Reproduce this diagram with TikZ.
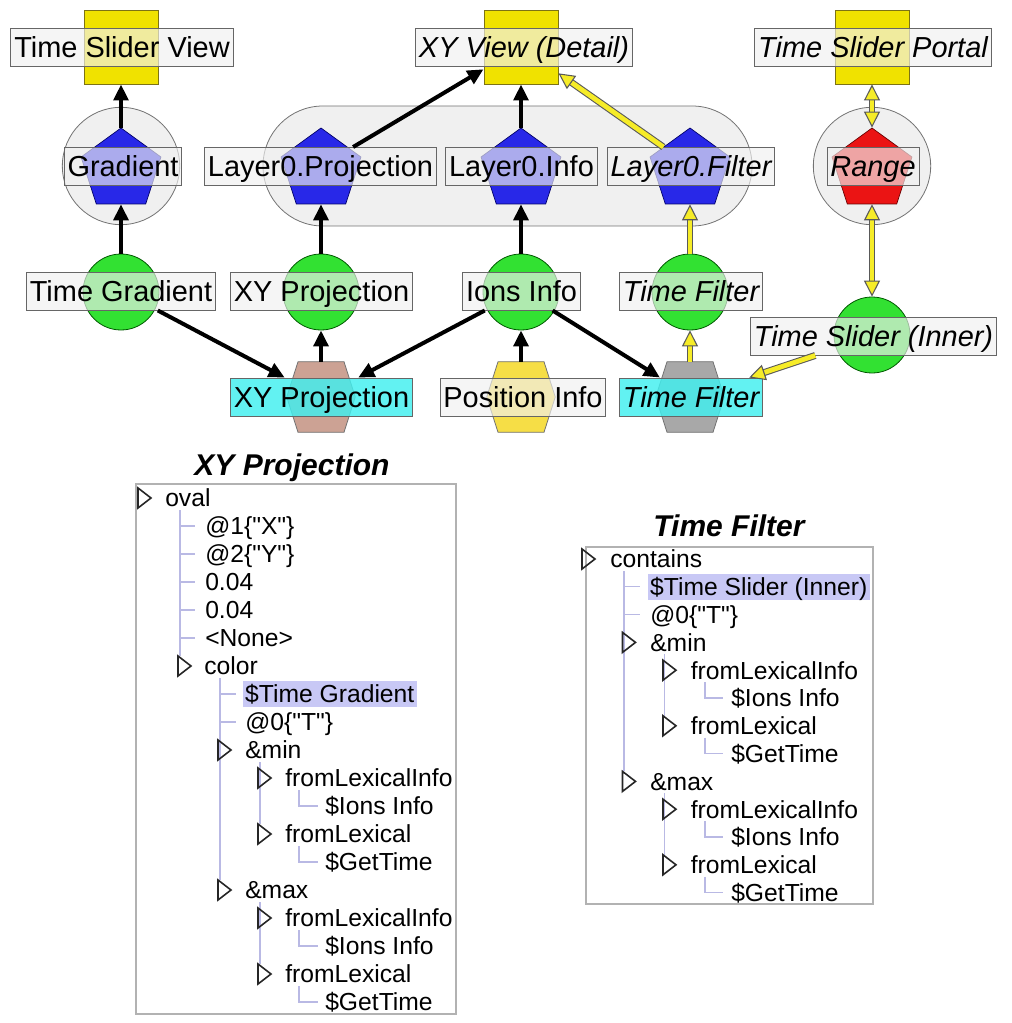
\documentclass[tikz,border=0pt]{standalone}
\usepackage{fontspec}
\setmainfont{Liberation Sans}
\usetikzlibrary{arrows.meta,calc,shapes.geometric}
\definecolor{yelS}{RGB}{240,226,0}
\definecolor{yelB}{RGB}{125,115,20}
\definecolor{bluP}{RGB}{40,40,232}
\definecolor{redP}{RGB}{235,20,20}
\definecolor{grnC}{RGB}{50,225,50}
\definecolor{cyaB}{RGB}{64,240,240}
\definecolor{hexA}{RGB}{204,162,148}
\definecolor{hexB}{RGB}{246,222,70}
\definecolor{hexC}{RGB}{168,168,168}
\definecolor{bgG}{RGB}{240,240,240}
\definecolor{hiL}{RGB}{200,200,245}
\definecolor{trL}{RGB}{185,185,228}
\definecolor{arY}{RGB}{246,236,40}
\newcommand\lblfont{\fontsize{21.7}{24}\selectfont}
\newcommand\treefont{\fontsize{18.5}{21}\selectfont}
\newcommand\ttlfont{\fontsize{22.5}{26}\selectfont\bfseries\itshape}
\newcommand\qq{\textquotedbl}
\newcommand\drawhex[2]{\draw[draw=black!55, fill=#2, line width=0.6pt] ($(#1.north)+(-23,0)$) -- ($(#1.north)+(23,0)$) -- (#1.east) -- ($(#1.south)+(23,0)$) -- ($(#1.south)+(-23,0)$) -- (#1.west) -- cycle;}
\newcommand\tritri[2]{\draw[tritr] ({#1},{#2-10}) -- ({#1+13},{#2}) -- ({#1},{#2+10}) -- cycle;}
\tikzset{
  Ytip/.tip={Triangle[length=12pt,width=12pt,color=black!65,fill=arY,line width=0.8pt]},
  lbl/.style={draw=black!60, line width=0.7pt, fill=black!6, fill opacity=0.66, text opacity=1, inner xsep=2.5pt, inner ysep=0pt, minimum height=28.5pt, font=\lblfont, text height=19pt, text depth=3.5pt},
  cylbl/.style={lbl, fill=cyaB, fill opacity=0.82},
  sq/.style={draw=yelB, line width=0.7pt, fill=yelS, minimum size=55.5pt, inner sep=0pt},
  pent/.style={regular polygon, regular polygon sides=5, minimum size=63pt, inner sep=0pt, fill=bluP, draw=blue!40!black, line width=0.5pt},
  grn/.style={circle, minimum size=57pt, inner sep=0pt, fill=grnC, draw=green!35!black, line width=0.6pt},
  bigc/.style={circle, minimum size=88pt, inner sep=0pt, fill=bgG, draw=black!55, line width=0.6pt},
  pill/.style={draw=black!55, fill=bgG, line width=0.6pt, rounded corners=44.9pt, minimum width=366.75pt, minimum height=90pt, inner sep=0pt},
  hexbox/.style={minimum width=51pt, minimum height=52.5pt, inner sep=0pt},
  blk/.style={draw=black, line width=3pt, -{Triangle[length=12pt,width=11pt]}},
  yelbase/.style={draw=arY, line width=3.6pt},
  yel/.style={yelbase, -{Ytip}, preaction={draw=black!65, line width=5.2pt, -, shorten >=11pt}},
  yel2/.style={yelbase, {Ytip}-{Ytip}, preaction={draw=black!65, line width=5.2pt, -, shorten >=11pt, shorten <=11pt}},
  tt/.style={font=\treefont, inner xsep=0pt, inner ysep=1pt, text height=15.5pt, text depth=2.3pt, anchor=west},
  hl/.style={tt, fill=hiL, inner xsep=2pt},
  tritr/.style={draw=black!85, line width=1.2pt, line join=miter},
  trl/.style={draw=trL, line width=0.8pt},
  tbox/.style={draw=black!30, line width=1pt, fill=white},
  ttl/.style={font=\ttlfont, inner sep=0pt, text height=19pt, text depth=2.9pt}
}
\begin{document}
\begin{tikzpicture}[x=0.75pt,y=-0.75pt]
\fill[white] (0,0) rectangle (1011,1023);
\useasboundingbox (0,0) rectangle (1011,1023);
% containers
\node[bigc] (gradO) at (121,166) {};
\node[bigc] (rangeO) at (872,166) {};
\node[pill] (pillO) at (507.5,166) {};
% yellow squares
\node[sq] (tsv) at (121,47) {};
\node[sq] (xyv) at (521,47) {};
\node[sq] (tsp) at (872,47) {};
% pentagons
\node[pent] (gradP) at (121,170) {};
\node[pent] (l0pP) at (321,170) {};
\node[pent] (l0iP) at (521,170) {};
\node[pent] (l0fP) at (690,170) {};
\node[pent, fill=redP, draw=red!40!black] (rangeP) at (872,170) {};
% green circles
\node[grn] (tgradC) at (121,292) {};
\node[grn] (xygC) at (321,292) {};
\node[grn] (ionsC) at (521,292) {};
\node[grn] (tfgC) at (690,292) {};
\node[grn] (tsiC) at (872,335) {};
% hexagons
\node[hexbox] (xypH) at (321,397) {};
\node[hexbox] (posH) at (521,397) {};
\node[hexbox] (tfH) at (690,397) {};
\drawhex{xypH}{hexA}
\drawhex{posH}{hexB}
\drawhex{tfH}{hexC}
% labels
\node[lbl] (tsvL) at (122,47.5) {Time Slider View};
\node[lbl] (xyvL) at (524,47.5) {\itshape XY View (Detail)};
\node[lbl] (tspL) at (873,47.5) {\itshape Time Slider Portal};
\node[lbl] (gradL) at (123,166.5) {Gradient};
\node[lbl] (l0pL) at (320.5,166.5) {Layer0.Projection};
\node[lbl] (l0iL) at (521.5,166.5) {Layer0.Info};
\node[lbl] (l0fL) at (691,166.5) {\itshape Layer0.Filter};
\node[lbl] (rangeL) at (873,166.5) {\itshape Range};
\node[lbl] (tgradL) at (121,291) {Time Gradient};
\node[lbl] (xygL) at (321.5,291) {XY Projection};
\node[lbl] (ionsL) at (521.5,291) {Ions Info};
\node[lbl] (tfgL) at (691,291) {\itshape Time Filter};
\node[lbl] (tsiL) at (873.5,336) {\itshape Time Slider (Inner)};
\node[cylbl] (xypL) at (321.5,397) {XY Projection};
\node[lbl] (posL) at (523,397) {Position Info};
\node[cylbl] (tfL) at (691,397) {\itshape Time Filter};
% connectors
\draw[blk] (gradP) -- (tsv);
\draw[blk] (tgradC) -- (gradP);
\draw[blk] (xygC) -- (l0pP);
\draw[blk] (l0pL) -- (xyv);
\draw[blk] (l0iP) -- (xyv);
\draw[blk] (ionsC) -- (l0iP);
\draw[yel] (l0fL) -- (xyv);
\draw[yel] (tfgC) -- (l0fP);
\draw[yel2] (rangeP) -- (tsp);
\draw[yel2] (rangeP) -- (tsiC);
\draw[blk] (tgradL) -- (xypL);
\draw[blk] (ionsL) -- (xypL);
\draw[blk] (ionsL) -- (tfL);
\draw[blk] (xypH) -- (xygC);
\draw[blk] (posH) -- (ionsC);
\draw[yel] (tfH) -- (tfgC);
\draw[yel] (tsiL) -- (tfL);
% ---------- left tree ----------
\node[ttl] (ttlA) at (292,465) {XY Projection};
\draw[tbox] (136,484) rectangle (456,1014);
\draw[trl] (180,510) -- (180,656);
\foreach \yy in {526,554,582,610,638} {\draw[trl] (180,\yy) -- (195,\yy);}
\draw[trl] (220,678) -- (220,880);
\foreach \yy in {694,722} {\draw[trl] (220,\yy) -- (236,\yy);}
\draw[trl] (260,762) -- (260,824);
\draw[trl] (260,902) -- (260,964);
\foreach \pa/\ch in {778/806,834/862,918/946,974/1002} {\draw[trl] (299,\pa+12) -- (299,\ch) -- (318,\ch);}
\tritri{138}{498}
\tritri{178}{666}
\tritri{218}{750}
\tritri{218}{890}
\tritri{258}{778}
\tritri{258}{834}
\tritri{258}{918}
\tritri{258}{974}
\node[tt] (a0) at (165,498) {oval};
\node[tt] (a1) at (205,526) {@1\{\qq X\qq\}};
\node[tt] (a2) at (205,554) {@2\{\qq Y\qq\}};
\node[tt] (a3) at (205,582) {0.04};
\node[tt] (a4) at (205,610) {0.04};
\node[tt] (a5) at (205,638) {<None>};
\node[tt] (a6) at (204,666) {color};
\node[hl] (a7) at (242.3,694) {\$Time Gradient};
\node[tt] (a8) at (245,722) {@0\{\qq T\qq\}};
\node[tt] (a9) at (245,750) {\&min};
\node[tt] (a10) at (285,778) {fromLexicalInfo};
\node[tt] (a11) at (325,806) {\$Ions Info};
\node[tt] (a12) at (285,834) {fromLexical};
\node[tt] (a13) at (325,862) {\$GetTime};
\node[tt] (a14) at (245,890) {\&max};
\node[tt] (a15) at (285,918) {fromLexicalInfo};
\node[tt] (a16) at (325,946) {\$Ions Info};
\node[tt] (a17) at (285,974) {fromLexical};
\node[tt] (a18) at (325,1002) {\$GetTime};
% ---------- right tree ----------
\node[ttl] (ttlB) at (729,526) {Time Filter};
\draw[tbox] (586,547) rectangle (873,904);
\draw[trl] (624,571) -- (624,771.4);
\foreach \yy in {586.8,614.6} {\draw[trl] (624,\yy) -- (640,\yy);}
\draw[trl] (664.5,654.4) -- (664.5,715.8);
\draw[trl] (664.5,793.4) -- (664.5,854.8);
\foreach \pa/\ch in {670.2/698,725.8/753.6,809.2/837,864.8/892.6} {\draw[trl] (705,\pa+12) -- (705,\ch) -- (723,\ch);}
\tritri{582}{559}
\tritri{622.5}{642.4}
\tritri{622.5}{781.4}
\tritri{663}{670.2}
\tritri{663}{725.8}
\tritri{663}{809.2}
\tritri{663}{864.8}
\node[tt] (b0) at (610,559) {contains};
\node[hl] (b1) at (647.3,586.8) {\$Time Slider (Inner)};
\node[tt] (b2) at (650,614.6) {@0\{\qq T\qq\}};
\node[tt] (b3) at (650,642.4) {\&min};
\node[tt] (b4) at (690.5,670.2) {fromLexicalInfo};
\node[tt] (b5) at (731,698) {\$Ions Info};
\node[tt] (b6) at (690.5,725.8) {fromLexical};
\node[tt] (b7) at (731,753.6) {\$GetTime};
\node[tt] (b8) at (650,781.4) {\&max};
\node[tt] (b9) at (690.5,809.2) {fromLexicalInfo};
\node[tt] (b10) at (731,837) {\$Ions Info};
\node[tt] (b11) at (690.5,864.8) {fromLexical};
\node[tt] (b12) at (731,892.6) {\$GetTime};
\end{tikzpicture}
\end{document}
